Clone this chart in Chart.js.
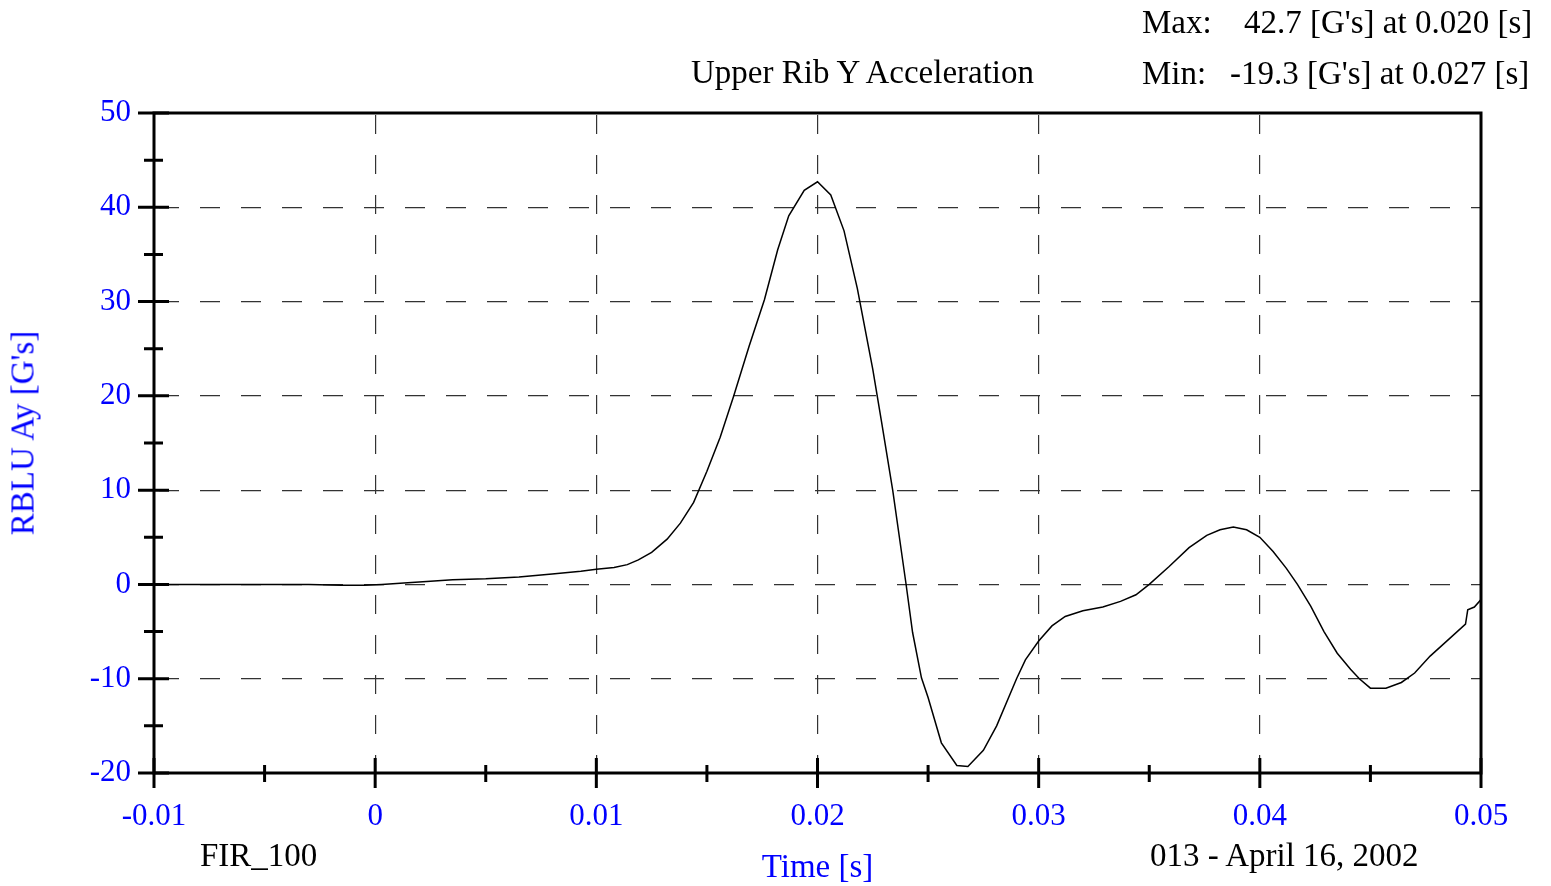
<!DOCTYPE html>
<html><head><meta charset="utf-8">
<script src="https://cdn.jsdelivr.net/npm/chart.js@4/dist/chart.umd.min.js"></script>
<style>
html,body{margin:0;padding:0;background:#fff;overflow:hidden}
#wrap{position:relative;width:1551px;height:886px;background:#fff}
canvas{position:absolute;left:0;top:0}
.t{position:absolute;font-family:"Liberation Serif","Times New Roman",serif;font-size:33px;line-height:33px;color:#000;white-space:pre}
#ytitle{color:#0000ff;left:23px;top:433px;transform:translate(-50%,-50%) rotate(-90deg)}
</style></head><body>
<div id="wrap">
<canvas id="c" width="1551" height="886"></canvas>
<div class="t" id="title" style="left:691px;top:56px"></div>
<div class="t" style="left:1142px;top:6px">Max:</div>
<div class="t" style="left:1244px;top:6px">42.7 [G's] at 0.020 [s]</div>
<div class="t" style="left:1142px;top:57px">Min:</div>
<div class="t" style="left:1230px;top:57px">-19.3 [G's] at 0.027 [s]</div>
<div class="t" style="left:200px;top:839px">FIR_100</div>
<div class="t" style="left:1150px;top:839px">013 - April 16, 2002</div>
<div class="t" id="ytitle"></div>
</div>
<script>
const chartTitle = "Upper Rib Y Acceleration";
const xAxisTitle = "Time [s]";
const yAxisTitle = "RBLU Ay [G's]";
const xTickValues = [-0.01, 0, 0.01, 0.02, 0.03, 0.04, 0.05];
const yTickValues = [-20, -10, 0, 10, 20, 30, 40, 50];
const xMinorTicks = [-0.005, 0.005, 0.015, 0.025, 0.035, 0.045];
const yMinorTicks = [-15, -5, 5, 15, 25, 35, 45];

const timeS = [
 -0.0100, -0.0050, -0.0030, -0.0015, -0.0005, 0.0003, 0.0013, 0.0025, 0.0035, 0.0050,
  0.0065, 0.0080, 0.0093, 0.0100, 0.0108, 0.0114, 0.0119, 0.0125, 0.0132, 0.0138,
  0.0144, 0.0150, 0.0156, 0.0162, 0.0169, 0.0176, 0.0182, 0.0187, 0.0194, 0.0200,
  0.0206, 0.0212, 0.0218, 0.0225, 0.0229, 0.0234, 0.0240, 0.0243, 0.0247,
  0.0250, 0.0256, 0.0263, 0.0268, 0.0275, 0.0281, 0.0290, 0.0294, 0.0300, 0.0306,
  0.0312, 0.0320, 0.0329, 0.0337, 0.0344, 0.0350, 0.0359, 0.0368, 0.0376, 0.0382,
  0.0388, 0.0394, 0.0400, 0.0406, 0.0412, 0.0417, 0.0423, 0.0429, 0.0435, 0.0441,
  0.0445, 0.0450, 0.0457, 0.0464, 0.0470, 0.0477, 0.0486, 0.0493, 0.0494, 0.0497,
  0.0500
];
const accelG = [
   0.0,   0.0,   0.0,  -0.1,  -0.1,   0.0,   0.15,  0.35,  0.5,   0.6,
   0.8,   1.1,   1.4,   1.6,   1.8,   2.1,   2.6,   3.4,   4.8,   6.5,
   8.7,  12.0,  15.6,  19.9,  25.2,  30.2,  35.5,  39.1,  41.8,  42.7,
  41.3,  37.5,  31.4,  22.8,  17.2,  10.0,   0.1,  -5.1,  -9.9,
 -12.0, -16.8, -19.2, -19.3, -17.6, -15.0, -10.0,  -8.0,  -6.0,  -4.4,
  -3.4,  -2.8,  -2.4,  -1.8,  -1.1,   0.0,   1.9,   3.9,   5.2,   5.8,
   6.1,   5.8,   5.0,   3.5,   1.7,   0.0,  -2.3,  -5.0,  -7.3,  -9.0,
 -10.0, -11.0, -11.0, -10.4,  -9.4,  -7.6,  -5.7,  -4.2,  -2.7,  -2.4,
  -1.6
];

document.getElementById('title').textContent = chartTitle;
document.getElementById('ytitle').textContent = yAxisTitle;

const BLUE = '#0000ff';
const FONT = '"Liberation Serif","Times New Roman",serif';

const framePlugin = {
  id: 'frame',
  afterDraw(chart) {
    const {ctx, chartArea: a, scales: {x, y}} = chart;
    ctx.save();
    ctx.strokeStyle = '#000';
    ctx.lineCap = 'butt';
    ctx.lineWidth = 3;
    ctx.strokeRect(a.left, a.top, a.right - a.left, a.bottom - a.top);
    ctx.beginPath();
    yTickValues.forEach(v => { const p = y.getPixelForValue(v); ctx.moveTo(a.left - 16, p); ctx.lineTo(a.left + 15, p); });
    yMinorTicks.forEach(v => { const p = y.getPixelForValue(v); ctx.moveTo(a.left - 10, p); ctx.lineTo(a.left + 9, p); });
    xTickValues.forEach(v => { const p = x.getPixelForValue(v); ctx.moveTo(p, a.bottom - 15); ctx.lineTo(p, a.bottom + 15); });
    xMinorTicks.forEach(v => { const p = x.getPixelForValue(v); ctx.moveTo(p, a.bottom - 8); ctx.lineTo(p, a.bottom + 9); });
    ctx.stroke();
    ctx.restore();
  }
};

const isEdge = (v, lo, hi) => Math.abs(v - lo) < 1e-9 || Math.abs(v - hi) < 1e-9;

new Chart(document.getElementById('c'), {
  type: 'line',
  data: {
    datasets: [{
      label: chartTitle,
      data: timeS.map((t, i) => ({x: t, y: accelG[i]})),
      borderColor: '#000',
      borderWidth: 1.5,
      pointRadius: 0,
      tension: 0,
      fill: false
    }]
  },
  options: {
    responsive: false,
    animation: false,
    layout: {padding: {left: 0, top: 113, right: 70, bottom: 0}},
    plugins: {legend: {display: false}, tooltip: {enabled: false}, title: {display: false}},
    scales: {
      x: {
        type: 'linear', min: -0.01, max: 0.05,
        afterFit(s) { s.height = 113; },
        afterBuildTicks(s) { s.ticks = xTickValues.map(v => ({value: v})); },
        ticks: {
          color: BLUE, font: {family: FONT, size: 31}, padding: 25, maxRotation: 0, autoSkip: false,
          callback: v => parseFloat(Number(v).toFixed(3)).toString()
        },
        grid: {
          drawTicks: false, lineWidth: 1.2,
          color: c => (c.tick && isEdge(c.tick.value, -0.01, 0.05)) ? 'rgba(0,0,0,0)' : '#333',
          borderDash: [19, 21], borderDashOffset: 38
        },
        border: {display: false, dash: [19, 21], dashOffset: 38},
        title: {display: true, text: xAxisTitle, color: BLUE, font: {family: FONT, size: 33, lineHeight: 1.05}, padding: {top: 0, bottom: 0}}
      },
      y: {
        type: 'linear', min: -20, max: 50,
        afterFit(s) { s.width = 154; },
        afterBuildTicks(s) { s.ticks = yTickValues.map(v => ({value: v})); },
        ticks: {color: BLUE, font: {family: FONT, size: 31}, padding: 23, autoSkip: false},
        grid: {
          drawTicks: false, lineWidth: 1.2,
          color: c => (c.tick && isEdge(c.tick.value, -20, 50)) ? 'rgba(0,0,0,0)' : '#333',
          borderDash: [20, 21], borderDashOffset: 36
        },
        border: {display: false, dash: [20, 21], dashOffset: 36},
        title: {display: false}
      }
    }
  },
  plugins: [framePlugin]
});
</script>
</body></html>
